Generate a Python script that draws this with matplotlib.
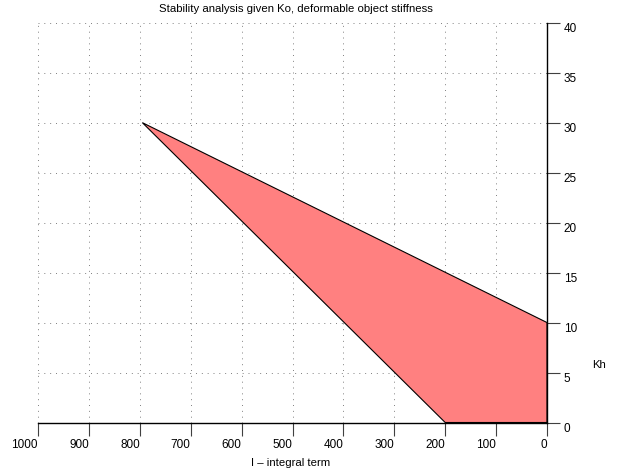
import matplotlib
matplotlib.use('Agg')
import matplotlib.pyplot as plt
from matplotlib.patches import Polygon

plt.rcParams['font.family'] = ['Liberation Sans', 'DejaVu Sans']

# stable region corners (I, Kh)
region_i = [795, 0, 0, 200]
region_kh = [30, 10, 0, 0]

x_ticks = [1000, 900, 800, 700, 600, 500, 400, 300, 200, 100, 0]
y_ticks = [0, 5, 10, 15, 20, 25, 30, 35, 40]

title = 'Stability analysis given Ko, deformable object stiffness'
x_label = 'I \u2013 integral term'
y_label = 'Kh'


def main():
    fig = plt.figure(figsize=(6.36, 4.76), dpi=100)
    ax = fig.add_axes([38 / 636, 1 - 422.5 / 476, (547 - 38) / 636, (422.5 - 22.7) / 476])

    ax.set_xlim(1000, 0)
    ax.set_ylim(0, 40)

    for v in x_ticks[:-1]:
        ax.axvline(v, color='#808080', lw=0.7, ls=(0, (1, 5)), zorder=1)
    for v in y_ticks[1:]:
        ax.axhline(v, color='#808080', lw=0.7, ls=(0, (1, 5)), zorder=1)

    poly = Polygon(list(zip(region_i, region_kh)), closed=True, facecolor='#ff8080',
                   edgecolor='black', lw=0.8, zorder=2)
    ax.add_patch(poly)

    for s in ['top', 'left']:
        ax.spines[s].set_visible(False)
    for s in ['bottom', 'right']:
        ax.spines[s].set_linewidth(1.0)
        ax.spines[s].set_zorder(3)

    ax.yaxis.tick_right()
    ax.set_xticks(x_ticks)
    ax.set_yticks(y_ticks)
    ax.set_xticklabels([str(v) for v in x_ticks])
    ax.set_yticklabels([str(v) for v in y_ticks])
    ax.tick_params(axis='both', direction='out', length=9, width=0.8, color='#404040',
                   labelsize=8.5, pad=3)
    plt.setp(ax.get_xticklabels(), ha='right')
    plt.setp(ax.get_yticklabels(), va='top')

    fig.text(296 / 636, 1 - 9.5 / 476, title, ha='center', va='center', fontsize=8.2)
    fig.text(291 / 636, 1 - 463 / 476, x_label, ha='center', va='center', fontsize=8.2)
    fig.text(592 / 636, 1 - 365 / 476, y_label, ha='left', va='center', fontsize=8.2)

    fig.savefig('out.png', dpi=100)


main()
